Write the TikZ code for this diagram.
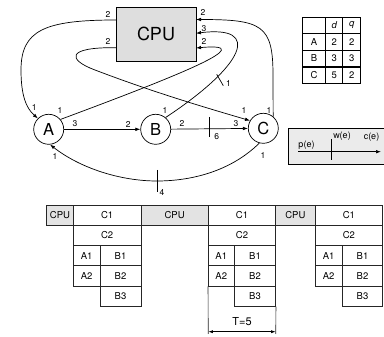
\documentclass[tikz,border=0pt]{standalone}
\usepackage{fontspec}
\setmainfont{TeX Gyre Heros}
\usetikzlibrary{arrows.meta}
\begin{document}
\begin{tikzpicture}[x=1pt,y=-1pt,
  every node/.style={inner sep=0pt},
  lab/.style={font=\fontsize{8.5}{9}\selectfont},
  vtx/.style={circle,draw,line width=0.7pt,minimum size=30pt,font=\fontsize{16.5}{17}\selectfont},
  cpubox/.style={draw,line width=0.7pt,fill=black!13,minimum width=80pt,minimum height=54pt,font=\fontsize{18}{20}\selectfont},
  edge/.style={line width=0.7pt,-{Latex[length=5pt,width=3.6pt]}},
  tickln/.style={line width=0.7pt},
  tcell/.style={draw,line width=0.6pt,minimum height=16.7pt,font=\fontsize{9.5}{10}\selectfont},
  cell/.style={draw=black!85,line width=0.6pt,minimum height=20.25pt,font=\fontsize{9.5}{10}\selectfont},
  gcell/.style={cell,fill=black!11},
]
\useasboundingbox (0,0) rectangle (384,337);

% graph
\node[cpubox] (cpu) at (156,34) {CPU};
\node[vtx] (A) at (48.7,129.3) {A};
\node[vtx] (B) at (155.7,129.3) {B};
\node[vtx] (C) at (263.3,128.3) {C};
\coordinate (cpuW1) at (116,20);
\coordinate (cpuW2) at (116,47.7);
\coordinate (cpuE1) at (196,19.5);
\coordinate (cpuE2) at (196,33.3);
\coordinate (cpuE3) at (196,48);

\draw[edge] (A) -- (B);
\draw[edge] (B) -- (C);
\draw[edge] (cpuW1) .. controls (45,20) and (21,30) .. (21,70) .. controls (21,95) and (26,108) .. (A.135);
\draw[edge] (cpuW2) .. controls (65,47) and (68,60) .. (95,70) .. controls (150,91) and (200,106) .. (C.150);
\draw[edge] (A.40) .. controls (180,75) and (262,42) .. (cpuE3);
\draw[edge] (B.50) .. controls (245,65) and (262,25) .. (cpuE2);
\draw[edge] (C.50) -- (273,75) .. controls (273,25) and (262,19.5) .. (cpuE1);
\draw[edge] (C.255) .. controls (230,172) and (190,181) .. (157,181) .. controls (120,181) and (80,168) .. (A.275);

% weight ticks
\draw[tickln] (209.3,117) -- (209.3,137);
\draw[tickln] (157,170) -- (157,192);
\draw[tickln] (216.7,74.3) -- (223.3,85.7);

% labels
\node[lab] at (108,14.5) {2};
\node[lab] at (108,41.5) {2};
\node[lab] at (203,12.5) {2};
\node[lab] at (204,28.5) {3};
\node[lab] at (204,41) {2};
\node[lab] at (34.3,107.5) {1};
\node[lab] at (60,110) {1};
\node[lab] at (75,124) {3};
\node[lab] at (128.3,124) {2};
\node[lab] at (165,110) {1};
\node[lab] at (182,123.5) {2};
\node[lab] at (236,123.5) {3};
\node[lab] at (244,110.5) {1};
\node[lab] at (269,110) {1};
\node[lab] at (216.7,136.5) {6};
\node[lab] at (228.5,83) {1};
\node[lab] at (55,156) {1};
\node[lab] at (263,155) {1};
\node[lab] at (162,192) {4};

% table
\node[tcell,minimum width=23.4pt] (t00) at (314,25.3) {};
\node[tcell,minimum width=17pt] (t01) at (334.2,25.3) {\itshape d};
\node[tcell,minimum width=18pt] (t02) at (351.7,25.3) {\itshape q};
\node[tcell,minimum width=23.4pt] (t10) at (314,41.7) {A};
\node[tcell,minimum width=17pt] (t11) at (334.2,41.7) {2};
\node[tcell,minimum width=18pt] (t12) at (351.7,41.7) {2};
\node[tcell,minimum width=23.4pt] (t20) at (314,58.3) {B};
\node[tcell,minimum width=17pt] (t21) at (334.2,58.3) {3};
\node[tcell,minimum width=18pt] (t22) at (351.7,58.3) {3};
\node[tcell,minimum width=23.4pt] (t30) at (314,75.2) {C};
\node[tcell,minimum width=17pt] (t31) at (334.2,75.2) {5};
\node[tcell,minimum width=18pt] (t32) at (351.7,75.2) {2};

% legend
\node[draw,line width=0.6pt,fill=black!8,minimum width=96pt,minimum height=35.7pt] (leg) at (336.3,146.2) {};
\coordinate (legL) at (298,151.7);
\coordinate (legR) at (381,151.7);
\draw[edge] (legL) -- (legR);
\draw[tickln] (331.7,139.5) -- (331.7,160);
\node[font=\fontsize{9}{10}\selectfont] at (306.5,145) {p(e)};
\node[font=\fontsize{9}{10}\selectfont] at (342,136.5) {w(e)};
\node[font=\fontsize{9}{10}\selectfont] at (371.5,136.8) {c(e)};

% schedule
\node[gcell,minimum width=26.6pt] (cpuA) at (60,215.1) {CPU};
\node[cell,minimum width=67.7pt] (c1a) at (107.15,215.1) {C1};
\node[cell,minimum width=67.7pt] (c2a) at (107.15,235.4) {C2};
\node[cell,minimum width=26.7pt] (a1a) at (86.65,255.6) {A1};
\node[cell,minimum width=26.7pt] (a2a) at (86.65,275.9) {A2};
\node[cell,minimum width=41pt] (b1a) at (120.5,255.6) {B1};
\node[cell,minimum width=41pt] (b2a) at (120.5,275.9) {B2};
\node[cell,minimum width=41pt] (b3a) at (120.5,296.1) {B3};

\node[gcell,minimum width=67.3pt] (cpuB) at (174.65,215.1) {CPU};
\node[cell,minimum width=67.4pt] (c1b) at (242,215.1) {C1};
\node[cell,minimum width=67.4pt] (c2b) at (242,235.4) {C2};
\node[cell,minimum width=26pt] (a1b) at (221.3,255.6) {A1};
\node[cell,minimum width=26pt] (a2b) at (221.3,275.9) {A2};
\node[cell,minimum width=41.4pt] (b1b) at (255,255.6) {B1};
\node[cell,minimum width=41.4pt] (b2b) at (255,275.9) {B2};
\node[cell,minimum width=41.4pt] (b3b) at (255,296.1) {B3};

\node[gcell,minimum width=39.3pt] (cpuC) at (295.35,215.1) {CPU};
\node[cell,minimum width=67.7pt] (c1c) at (348.85,215.1) {C1};
\node[cell,minimum width=67.7pt] (c2c) at (348.85,235.4) {C2};
\node[cell,minimum width=27.3pt] (a1c) at (328.65,255.6) {A1};
\node[cell,minimum width=27.3pt] (a2c) at (328.65,275.9) {A2};
\node[cell,minimum width=40.4pt] (b1c) at (362.5,255.6) {B1};
\node[cell,minimum width=40.4pt] (b2c) at (362.5,275.9) {B2};
\node[cell,minimum width=40.4pt] (b3c) at (362.5,296.1) {B3};

% T=5 dimension
\coordinate (dimL) at (208.3,331.7);
\coordinate (dimR) at (275.7,331.7);
\draw[line width=0.6pt,draw=black!85] (a2b.south west) -- (208.3,334);
\draw[line width=0.6pt,draw=black!85] (b3b.south east) -- (275.7,334);
\draw[line width=0.6pt,{Latex[length=4.5pt,width=3pt]}-{Latex[length=4.5pt,width=3pt]}] (dimL) -- (dimR);
\node[font=\fontsize{11}{12}\selectfont] (T) at (242,321.5) {T=5};
\end{tikzpicture}
\end{document}
